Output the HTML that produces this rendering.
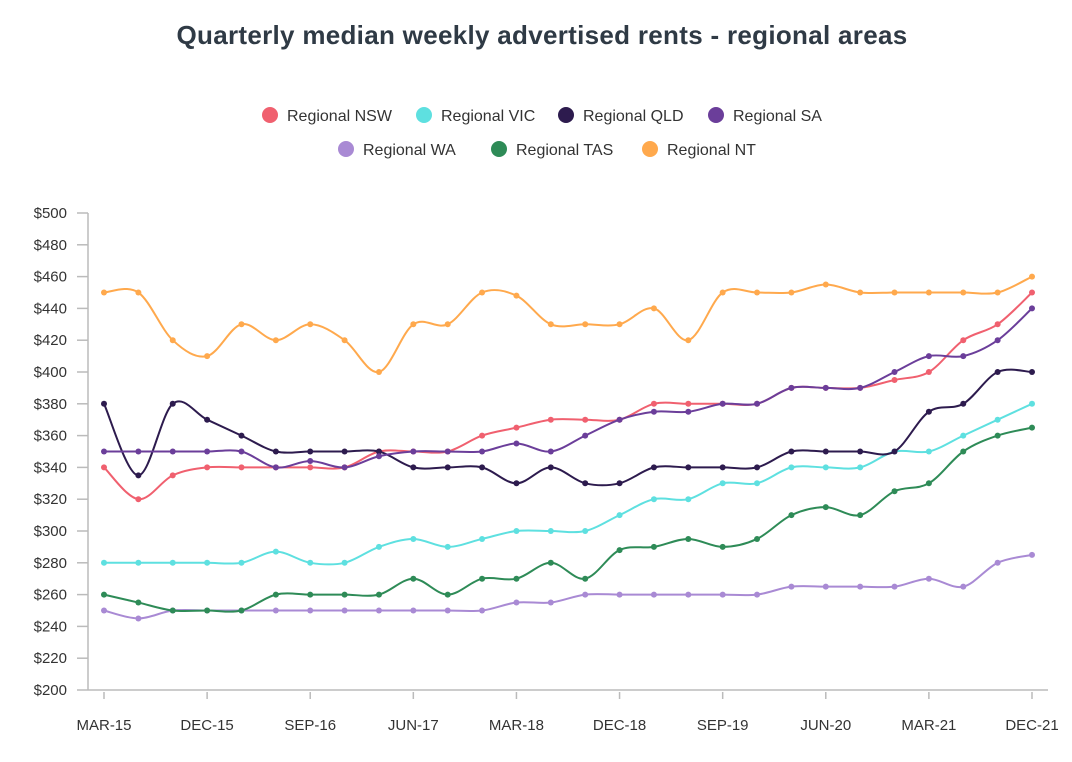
<!DOCTYPE html>
<html><head><meta charset="utf-8"><style>
body{margin:0;background:#fff;font-family:"Liberation Sans",sans-serif}
</style></head><body>
<svg id="c" width="1072" height="757" xmlns="http://www.w3.org/2000/svg">
<text x="542" y="44" text-anchor="middle" font-size="26" font-weight="bold" letter-spacing="0.3" fill="#2f3a45">Quarterly median weekly advertised rents - regional areas</text>
</svg>
<script>
const categories=["MAR-15","JUN-15","SEP-15","DEC-15","MAR-16","JUN-16","SEP-16","DEC-16","MAR-17","JUN-17","SEP-17","DEC-17","MAR-18","JUN-18","SEP-18","DEC-18","MAR-19","JUN-19","SEP-19","DEC-19","MAR-20","JUN-20","SEP-20","DEC-20","MAR-21","JUN-21","SEP-21","DEC-21"];
const nsw=[340,320,335,340,340,340,340,340,350,350,350,360,365,370,370,370,380,380,380,380,390,390,390,395,400,420,430,450];
const vic=[280,280,280,280,280,287,280,280,290,295,290,295,300,300,300,310,320,320,330,330,340,340,340,350,350,360,370,380];
const qld=[380,335,380,370,360,350,350,350,350,340,340,340,330,340,330,330,340,340,340,340,350,350,350,350,375,380,400,400];
const sa=[350,350,350,350,350,340,344,340,347,350,350,350,355,350,360,370,375,375,380,380,390,390,390,400,410,410,420,440];
const wa=[250,245,250,250,250,250,250,250,250,250,250,250,255,255,260,260,260,260,260,260,265,265,265,265,270,265,280,285];
const tas=[260,255,250,250,250,260,260,260,260,270,260,270,270,280,270,288,290,295,290,295,310,315,310,325,330,350,360,365];
const nt=[450,450,420,410,430,420,430,420,400,430,430,450,448,430,430,430,440,420,450,450,450,455,450,450,450,450,450,460];
const yTicks=[200,220,240,260,280,300,320,340,360,380,400,420,440,460,480,500];
const seriesNames=["Regional NSW","Regional VIC","Regional QLD","Regional SA","Regional WA","Regional TAS","Regional NT"];
const colors=["#f0606f","#5ee0e0","#2d1b4e","#6b3e9a","#a98ad4","#2e8b57","#ffa94d"];
const allSeries=[nsw,vic,qld,sa,wa,tas,nt];
const svg=document.getElementById('c');const NS="http://www.w3.org/2000/svg";
function el(t,a,p){const e=document.createElementNS(NS,t);for(const k in a)e.setAttribute(k,a[k]);(p||svg).appendChild(e);return e;}
const x0=104,x1=1032,yB=690,yT=213;
const xs=i=>x0+i*(x1-x0)/(categories.length-1);
const ys=v=>yB-(v-200)/(500-200)*(yB-yT);
let ax=el('line',{x1:88,y1:yT,x2:88,y2:yB,stroke:'#bbb','stroke-width':1.5});

let bx=el('line',{x1:88,y1:yB,x2:1048,y2:yB,stroke:'#bbb','stroke-width':1.5});

yTicks.forEach(v=>{el('line',{x1:77,y1:ys(v),x2:88,y2:ys(v),stroke:'#bbb','stroke-width':1.5});
 const t=el('text',{x:67,y:ys(v)+5,'text-anchor':'end','font-size':15,fill:'#333'});t.textContent='$'+v;
 });
categories.forEach((c,i)=>{if(i%3)return;el('line',{x1:xs(i),y1:692,x2:xs(i),y2:699,stroke:'#bbb','stroke-width':1.5});
 const t=el('text',{x:xs(i),y:730,'text-anchor':'middle','font-size':15,fill:'#333'});t.textContent=c;
 });
function path(d){const p=d.map((v,i)=>[xs(i),ys(v)]);let s=`M${p[0][0]},${p[0][1]}`;
 for(let i=0;i<p.length-1;i++){const a=p[i-1]||p[i],b=p[i],c=p[i+1],e=p[i+2]||c;
 s+=`C${b[0]+(c[0]-a[0])/6},${b[1]+(c[1]-a[1])/6} ${c[0]-(e[0]-b[0])/6},${c[1]-(e[1]-b[1])/6} ${c[0]},${c[1]}`;}return s;}
allSeries.forEach((d,k)=>{const g=el('g',{});
 el('path',{d:path(d),fill:'none',stroke:colors[k],'stroke-width':2},g);
 d.forEach((v,i)=>{const c=el('circle',{cx:xs(i),cy:ys(v),r:3,fill:colors[k]},g);});});
const legPos=[[270,115],[424,115],[566,115],[716,115],[346,149],[499,149],[650,149]];
seriesNames.forEach((n,k)=>{const g=el('g',{});
 el('circle',{cx:legPos[k][0],cy:legPos[k][1],r:8,fill:colors[k]},g);
 const t=el('text',{x:legPos[k][0]+17,y:legPos[k][1]+6,'font-size':16,fill:'#333'},g);t.textContent=n;});
</script>
</body></html>
